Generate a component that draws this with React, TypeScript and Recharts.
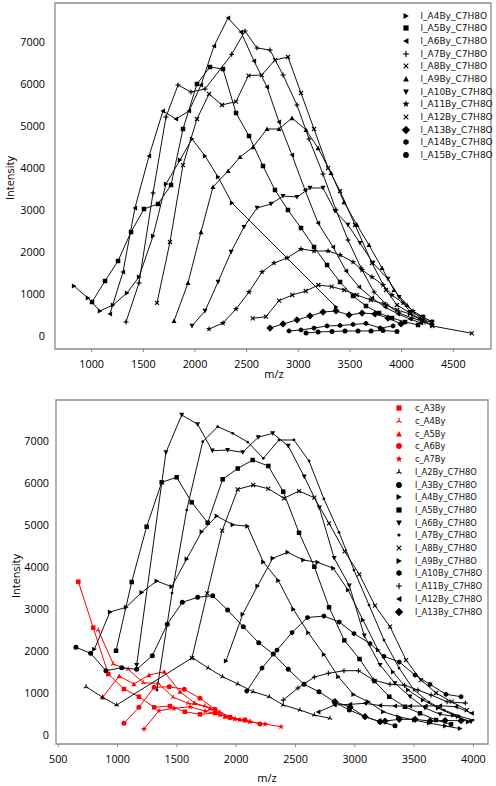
import React from 'react';
import { ScatterChart, Scatter, XAxis, YAxis, ReferenceArea } from 'recharts';

// ---------- tick labels ----------
const topXTicks = [1000, 1500, 2000, 2500, 3000, 3500, 4000, 4500];
const bottomXTicks = [500, 1000, 1500, 2000, 2500, 3000, 3500, 4000];
const yTicks = [0, 1000, 2000, 3000, 4000, 5000, 6000, 7000];

// ---------- top chart series (m/z, intensity) ----------
const tA4Mz = [829, 964, 1080, 1206, 1342, 1458, 1594, 1719, 1855, 1971, 2097, 2223, 2358, 3365];
const tA4Int = [1183, 898, 588, 731, 1017, 1398, 2374, 3612, 4183, 4683, 4279, 3779, 3160, 683];
const tA5Mz = [1003, 1129, 1255, 1381, 1506, 1642, 1768, 1884, 2019, 2145, 2271, 2397, 2523, 2658, 2774, 2900, 3026, 3152, 3278, 3404, 3530, 3655, 3781, 3907, 4033, 4159];
const tA5Int = [802, 1302, 1779, 2469, 3017, 3136, 3588, 4922, 5993, 6398, 6350, 5303, 4755, 4041, 3469, 2993, 2564, 2112, 1683, 1279, 945, 707, 540, 421, 326, 255];
const tA6Mz = [1177, 1303, 1419, 1555, 1690, 1816, 1942, 2058, 2184, 2320, 2445, 2571, 2697, 2813, 2939, 3065, 3191, 3336, 3462, 3588, 3713, 3839, 3965, 4081, 4188];
const tA6Int = [517, 1517, 3041, 4279, 5350, 5160, 5350, 5969, 6898, 7564, 7231, 6541, 5922, 5088, 4302, 3469, 2683, 2112, 1541, 1160, 898, 683, 517, 398, 302];
const tA7Mz = [1332, 1458, 1594, 1719, 1836, 1961, 2097, 2355, 2484, 2600, 2726, 2852, 2987, 3104, 3239, 3365, 3481, 3607, 3733, 3859, 3975, 4101, 4227];
const tA7Int = [326, 1255, 3398, 5207, 5969, 5803, 5874, 6700, 7255, 6850, 6803, 6207, 5493, 4683, 3850, 2993, 2279, 1612, 1040, 731, 540, 421, 326];
const tA8Mz = [1632, 1758, 1884, 2019, 2136, 2261, 2397, 2518, 2646, 2774, 2900, 3026, 3152, 3288, 3404, 3549, 3713, 3849, 3955, 4081, 4197, 4294];
const tA8Int = [779, 2231, 4064, 5160, 5755, 5493, 5576, 6195, 6207, 6564, 6636, 5779, 4922, 3993, 3445, 2636, 1731, 1088, 731, 540, 374, 255];
const tA9Mz = [1797, 1932, 2058, 2174, 2320, 2436, 2562, 2697, 2813, 2939, 3075, 3191, 3317, 3442, 3568, 3684, 3810, 3926, 4052, 4178, 4294];
const tA9Int = [350, 1255, 2469, 3541, 3922, 4255, 4493, 4922, 4922, 5183, 4898, 4469, 3874, 3183, 2636, 2160, 1612, 1088, 731, 421, 302];
const tA10Mz = [1971, 2097, 2223, 2349, 2474, 2600, 2736, 2852, 2987, 3113, 3239, 3355, 3481, 3597, 3723, 3868, 3975, 4081, 4207, 4294];
const tA10Int = [231, 588, 1279, 1993, 2588, 3041, 3136, 3326, 3302, 3517, 3517, 2969, 2636, 2207, 1731, 1350, 921, 564, 445, 326];
const tA11Mz = [2136, 2271, 2397, 2523, 2649, 2765, 2891, 3026, 3152, 3288, 3404, 3530, 3617, 3713, 3820, 3907, 4014, 4110, 4207, 4294];
const tA11Int = [160, 302, 636, 1040, 1517, 1731, 1850, 2064, 2017, 2017, 1921, 1755, 1564, 1398, 1207, 969, 779, 588, 445, 326];
const tA12Mz = [2559, 2687, 2813, 2942, 3072, 3194, 3323, 3445, 3565, 3701, 3830, 3958, 4081, 4204, 4297, 4679];
const tA12Int = [414, 453, 833, 969, 1064, 1207, 1167, 1088, 969, 850, 755, 612, 517, 350, 231, 57];
const tA13Mz = [2726, 2852, 2987, 3113, 3239, 3365, 3491, 3617, 3743, 3868, 3994];
const tA13Int = [183, 279, 374, 469, 564, 588, 493, 540, 517, 421, 279];
const tA14Mz = [2910, 3026, 3152, 3278, 3404, 3530, 3655, 3791, 3917];
const tA14Int = [112, 136, 183, 231, 243, 267, 291, 183, 231];
const tA15Mz = [3075, 3191, 3326, 3452, 3578, 3704, 3820, 3955];
const tA15Int = [64, 88, 100, 112, 112, 112, 124, 100];

// ---------- bottom chart series ----------
const cA3Mz = [669, 795, 922, 1054, 1180, 1309, 1442, 1568, 1695, 1821, 1948, 2074];
const cA3Int = [3650, 2554, 1452, 1095, 912, 659, 690, 554, 493, 524, 416, 357];
const cA4Mz = [837, 964, 1090, 1217, 1343, 1470, 1596, 1737, 1863, 1990, 2116];
const cA4Int = [2500, 1690, 1564, 1245, 1231, 897, 754, 690, 547, 380, 316];
const cA5Mz = [874, 1014, 1138, 1265, 1394, 1526, 1647, 1779, 1906, 2032];
const cA5Int = [897, 1404, 1214, 1428, 1507, 1031, 769, 635, 436, 373];
const cA6Mz = [1054, 1180, 1309, 1436, 1562, 1695, 1821, 1948, 2074, 2201];
const cA6Int = [278, 659, 1135, 1150, 1088, 874, 612, 421, 357, 262];
const cA7Mz = [1223, 1349, 1476, 1611, 1737, 1863, 1990, 2116, 2243, 2378];
const cA7Int = [143, 578, 635, 673, 571, 476, 380, 316, 262, 197];

const bA2Mz = [734, 874, 992, 1630, 1765, 1886, 2015, 2144, 2279, 2397, 2538, 2659, 2791];
const bA2Int = [1150, 897, 714, 1840, 1595, 1388, 1214, 1031, 912, 714, 595, 476, 397];
const bA3Mz = [649, 773, 902, 1035, 1161, 1293, 1419, 1546, 1675, 1802, 1928, 2060, 2190, 2313, 2439, 2572, 2698, 2827, 2954, 3086, 3213, 3339];
const bA3Int = [2088, 1945, 1531, 1602, 1564, 1888, 2635, 3159, 3278, 3316, 2976, 2578, 2197, 1928, 1564, 1207, 1031, 793, 595, 436, 316, 221];
const bA4Mz = [804, 936, 1071, 1203, 1330, 1456, 1583, 1709, 1836, 1971, 2095, 2229, 2355, 2482, 2608, 2740, 2861, 2989, 3114, 3240, 3367, 3499, 3626, 3761, 3887];
const bA4Int = [2040, 2928, 3040, 3393, 3666, 3531, 4190, 4840, 5214, 5007, 4971, 4119, 3678, 2993, 2435, 1916, 1388, 964, 793, 554, 436, 357, 285, 214, 154];
const bA5Mz = [987, 1119, 1245, 1372, 1498, 1625, 1760, 1886, 2013, 2139, 2271, 2397, 2530, 2659, 2783, 2912, 3040, 3166, 3291, 3423, 3550, 3685, 3811];
const bA5Int = [2007, 3643, 4959, 6016, 6136, 5540, 5055, 6088, 6345, 6547, 6405, 5793, 4816, 4007, 3040, 2254, 1809, 1285, 912, 673, 516, 357, 254];
const bA6Mz = [1161, 1408, 1541, 1675, 1799, 1928, 2055, 2186, 2308, 2439, 2574, 2701, 2826, 2954, 3080, 3213, 3339, 3466, 3592, 3718, 3859, 3980];
const bA6Int = [1666, 6731, 7619, 7397, 6769, 6785, 6731, 7088, 7183, 6881, 6150, 5412, 4214, 3555, 2364, 1666, 1231, 912, 643, 493, 436, 316];
const bA7Mz = [1332, 1459, 1583, 1718, 1844, 1971, 2097, 2229, 2361, 2487, 2614, 2740, 2867, 2993, 3120, 3246, 3373, 3499, 3625, 3752, 3879, 3997];
const bA7Int = [1071, 3381, 5357, 6983, 7340, 7183, 6976, 6588, 7024, 7024, 6524, 5619, 4826, 3928, 3095, 2262, 1595, 1071, 785, 595, 452, 357];
const bA8Mz = [1627, 1756, 1882, 2013, 2144, 2271, 2403, 2530, 2659, 2783, 2914, 3038, 3170, 3297, 3432, 3558, 3685, 3817, 3944];
const bA8Int = [1833, 3374, 4864, 5850, 5952, 5864, 5635, 5809, 5650, 5040, 4371, 3826, 3078, 2578, 1785, 1309, 1000, 793, 595];
const bA9Mz = [1914, 2055, 2180, 2308, 2434, 2566, 2687, 2819, 2943, 3069, 3196, 3322, 3449, 3575, 3702, 3828, 3955];
const bA9Int = [1762, 2874, 3547, 4207, 4350, 4166, 4112, 3969, 3452, 2738, 2023, 1500, 1071, 833, 643, 476, 309];
const bA10Mz = [2089, 2218, 2344, 2471, 2601, 2740, 2869, 2993, 3128, 3246, 3375, 3508, 3634, 3769, 3896];
const bA10Int = [1047, 1595, 2023, 2440, 2797, 2833, 2690, 2416, 2178, 1873, 1738, 1428, 1207, 969, 912];
const bA11Mz = [2397, 2521, 2659, 2777, 2909, 3031, 3156, 3297, 3419, 3533, 3643, 3778, 3932];
const bA11Int = [833, 1119, 1381, 1469, 1531, 1531, 1309, 1207, 1185, 1071, 952, 793, 761];
const bA12Mz = [2692, 2829, 2960, 3086, 3213, 3339, 3466, 3596, 3718, 3853, 3986];
const bA12Int = [547, 714, 731, 754, 702, 690, 690, 690, 697, 673, 516];
const bA13Mz = [2833, 2960, 3086, 3213, 3255, 3375, 3508, 3634, 3761, 3896];
const bA13Int = [793, 666, 436, 316, 333, 373, 373, 333, 345, 340];

type Kind = 'triRight' | 'triLeft' | 'triUp' | 'triDown' | 'square' | 'circle' | 'point' | 'plus' | 'x' | 'star' | 'diamond' | 'hexagon' | 'triY';
type Series = { name: string; kind: Kind; color: string; mz: number[]; it: number[] };

const BLACK = '#000000';
const RED = '#ff0000';

const topSeries: Series[] = [
  { name: 'l_A4By_C7H8O', kind: 'triRight', color: BLACK, mz: tA4Mz, it: tA4Int },
  { name: 'l_A5By_C7H8O', kind: 'square', color: BLACK, mz: tA5Mz, it: tA5Int },
  { name: 'l_A6By_C7H8O', kind: 'triLeft', color: BLACK, mz: tA6Mz, it: tA6Int },
  { name: 'l_A7By_C7H8O', kind: 'plus', color: BLACK, mz: tA7Mz, it: tA7Int },
  { name: 'l_A8By_C7H8O', kind: 'x', color: BLACK, mz: tA8Mz, it: tA8Int },
  { name: 'l_A9By_C7H8O', kind: 'triUp', color: BLACK, mz: tA9Mz, it: tA9Int },
  { name: 'l_A10By_C7H8O', kind: 'triDown', color: BLACK, mz: tA10Mz, it: tA10Int },
  { name: 'l_A11By_C7H8O', kind: 'star', color: BLACK, mz: tA11Mz, it: tA11Int },
  { name: 'l_A12By_C7H8O', kind: 'x', color: BLACK, mz: tA12Mz, it: tA12Int },
  { name: 'l_A13By_C7H8O', kind: 'diamond', color: BLACK, mz: tA13Mz, it: tA13Int },
  { name: 'l_A14By_C7H8O', kind: 'hexagon', color: BLACK, mz: tA14Mz, it: tA14Int },
  { name: 'l_A15By_C7H8O', kind: 'circle', color: BLACK, mz: tA15Mz, it: tA15Int },
];

const bottomSeries: Series[] = [
  { name: 'c_A3By', kind: 'square', color: RED, mz: cA3Mz, it: cA3Int },
  { name: 'c_A4By', kind: 'triY', color: RED, mz: cA4Mz, it: cA4Int },
  { name: 'c_A5By', kind: 'triUp', color: RED, mz: cA5Mz, it: cA5Int },
  { name: 'c_A6By', kind: 'circle', color: RED, mz: cA6Mz, it: cA6Int },
  { name: 'c_A7By', kind: 'star', color: RED, mz: cA7Mz, it: cA7Int },
  { name: 'l_A2By_C7H8O', kind: 'triY', color: BLACK, mz: bA2Mz, it: bA2Int },
  { name: 'l_A3By_C7H8O', kind: 'circle', color: BLACK, mz: bA3Mz, it: bA3Int },
  { name: 'l_A4By_C7H8O', kind: 'triRight', color: BLACK, mz: bA4Mz, it: bA4Int },
  { name: 'l_A5By_C7H8O', kind: 'square', color: BLACK, mz: bA5Mz, it: bA5Int },
  { name: 'l_A6By_C7H8O', kind: 'triDown', color: BLACK, mz: bA6Mz, it: bA6Int },
  { name: 'l_A7By_C7H8O', kind: 'point', color: BLACK, mz: bA7Mz, it: bA7Int },
  { name: 'l_A8By_C7H8O', kind: 'x', color: BLACK, mz: bA8Mz, it: bA8Int },
  { name: 'l_A9By_C7H8O', kind: 'triRight', color: BLACK, mz: bA9Mz, it: bA9Int },
  { name: 'l_A10By_C7H8O', kind: 'hexagon', color: BLACK, mz: bA10Mz, it: bA10Int },
  { name: 'l_A11By_C7H8O', kind: 'plus', color: BLACK, mz: bA11Mz, it: bA11Int },
  { name: 'l_A12By_C7H8O', kind: 'triLeft', color: BLACK, mz: bA12Mz, it: bA12Int },
  { name: 'l_A13By_C7H8O', kind: 'diamond', color: BLACK, mz: bA13Mz, it: bA13Int },
];

function Mark({ kind, cx, cy, color, k }: { kind: Kind; cx: number; cy: number; color: string; k: number }) {
  const pts = (arr: number[][]) => arr.map((p) => `${cx + p[0]},${cy + p[1]}`).join(' ');
  switch (kind) {
    case 'square':
      return <rect x={cx - k * 0.9} y={cy - k * 0.9} width={k * 1.8} height={k * 1.8} fill={color} />;
    case 'circle':
      return <circle cx={cx} cy={cy} r={k} fill={color} />;
    case 'point':
      return <circle cx={cx} cy={cy} r={k * 0.55} fill={color} />;
    case 'triUp':
      return <polygon points={pts([[0, -k], [-k, k * 0.85], [k, k * 0.85]])} fill={color} />;
    case 'triDown':
      return <polygon points={pts([[0, k], [-k, -k * 0.85], [k, -k * 0.85]])} fill={color} />;
    case 'triLeft':
      return <polygon points={pts([[-k, 0], [k * 0.85, -k], [k * 0.85, k]])} fill={color} />;
    case 'triRight':
      return <polygon points={pts([[k, 0], [-k * 0.85, -k], [-k * 0.85, k]])} fill={color} />;
    case 'diamond': {
      const d = k * 1.45;
      return <polygon points={pts([[0, -d], [d, 0], [0, d], [-d, 0]])} fill={color} />;
    }
    case 'hexagon': {
      const r = k * 1.05;
      const a: number[][] = [];
      for (let i = 0; i < 6; i++) {
        const t = (Math.PI / 3) * i - Math.PI / 2;
        a.push([r * Math.cos(t), r * Math.sin(t)]);
      }
      return <polygon points={pts(a)} fill={color} />;
    }
    case 'star': {
      const a: number[][] = [];
      for (let i = 0; i < 10; i++) {
        const r = i % 2 === 0 ? k * 1.3 : k * 0.52;
        const t = (Math.PI / 5) * i - Math.PI / 2;
        a.push([r * Math.cos(t), r * Math.sin(t)]);
      }
      return <polygon points={pts(a)} fill={color} />;
    }
    case 'plus':
      return (
        <g stroke={color} strokeWidth={1.1}>
          <line x1={cx - k} y1={cy} x2={cx + k} y2={cy} />
          <line x1={cx} y1={cy - k} x2={cx} y2={cy + k} />
        </g>
      );
    case 'x': {
      const d = k * 0.8;
      return (
        <g stroke={color} strokeWidth={1.1}>
          <line x1={cx - d} y1={cy - d} x2={cx + d} y2={cy + d} />
          <line x1={cx - d} y1={cy + d} x2={cx + d} y2={cy - d} />
        </g>
      );
    }
    case 'triY':
      return (
        <g stroke={color} strokeWidth={1.1}>
          <line x1={cx} y1={cy} x2={cx} y2={cy - k} />
          <line x1={cx} y1={cy} x2={cx - k * 0.87} y2={cy + k * 0.5} />
          <line x1={cx} y1={cy} x2={cx + k * 0.87} y2={cy + k * 0.5} />
        </g>
      );
    default:
      return null;
  }
}

const tickFont = { fontSize: 10.8, fill: '#000', fontFamily: '"Open Sans", sans-serif' };

function Panel({
  series, height, margin, xDomain, yDomain, xTicks, yTickMargin,
}: {
  series: Series[]; height: number; margin: any; xDomain: number[]; yDomain: number[]; xTicks: number[]; yTickMargin: number;
}) {
  return (
    <ScatterChart width={496} height={height} margin={margin}>
      <XAxis
        type="number" dataKey="x" domain={xDomain} allowDataOverflow ticks={xTicks} interval={0}
        tickSize={3} tickMargin={8} axisLine={false} tickLine={{ stroke: '#888' }} tick={tickFont} height={25}
      />
      <YAxis
        type="number" dataKey="y" domain={yDomain} allowDataOverflow ticks={yTicks} interval={0}
        tickSize={0} tickMargin={yTickMargin} axisLine={false} tickLine={false} tick={tickFont} width={45}
      />
      <ReferenceArea
        x1={xDomain[0]} x2={xDomain[1]} y1={yDomain[0]} y2={yDomain[1]}
        fill="none" fillOpacity={0} stroke="#8c8c8c" strokeWidth={1.3} ifOverflow="visible"
      />
      {series.map((s, si) => (
        <Scatter
          key={si}
          name={s.name}
          data={s.mz.map((x, i) => ({ x, y: s.it[i] }))}
          line={{ stroke: s.color === RED ? RED : '#111', strokeWidth: 1 }}
          lineType="joint"
          isAnimationActive={false}
          legendType="none"
          shape={(p: any) => {
            const cx = p.cx ?? p.x + (p.width || 0) / 2;
            const cy = p.cy ?? p.y + (p.height || 0) / 2;
            return <Mark kind={s.kind} cx={cx} cy={cy} color={s.color} k={2.5} />;
          }}
        />
      ))}
    </ScatterChart>
  );
}

function LegendBox({ series, top0, step, markX, textX, fontSize }: { series: Series[]; top0: number; step: number; markX: number; textX: number; fontSize: number }) {
  return (
    <>
      {series.map((s, i) => {
        const cy = top0 + step * i;
        return (
          <React.Fragment key={i}>
            <svg width={12} height={12} style={{ position: 'absolute', left: markX - 6, top: cy - 6, overflow: 'visible' }}>
              <Mark kind={s.kind} cx={6} cy={6} color={s.color} k={2.9} />
            </svg>
            <div
              style={{
                position: 'absolute', left: textX, top: cy - 7, height: 14, lineHeight: '14px',
                fontSize, fontFamily: '"DejaVu Sans", sans-serif', color: '#111', whiteSpace: 'nowrap',
              }}
            >
              {s.name}
            </div>
          </React.Fragment>
        );
      })}
    </>
  );
}

const labelStyle: React.CSSProperties = {
  position: 'absolute', fontSize: 11, fontFamily: '"Open Sans", sans-serif', color: '#000', whiteSpace: 'nowrap',
};

export default function App() {
  return (
    <div style={{ position: 'absolute', left: 0, top: 0, width: 496, height: 786, background: '#fff', overflow: 'hidden' }}>
      <div style={{ position: 'absolute', left: 0, top: 0 }}>
        <Panel
          series={topSeries}
          height={390}
          margin={{ top: 3, right: 5, left: 10, bottom: 16 }}
          xDomain={[645, 4865]}
          yDomain={[-317, 7922]}
          xTicks={topXTicks}
          yTickMargin={10}
        />
      </div>
      <div style={{ position: 'absolute', left: 0, top: 390 }}>
        <Panel
          series={bottomSeries}
          height={396}
          margin={{ top: 10, right: 8, left: 11, bottom: 17 }}
          xDomain={[481, 4123]}
          yDomain={[-214, 7976]}
          xTicks={bottomXTicks}
          yTickMargin={7}
        />
      </div>
      <LegendBox series={topSeries} top0={15.7} step={12.66} markX={406} textX={420.5} fontSize={9} />
      <LegendBox series={bottomSeries} top0={408.3} step={12.7} markX={399.3} textX={415} fontSize={8.4} />
      <div style={{ ...labelStyle, left: 9, top: 178, transform: 'translate(-50%, -50%) rotate(-90deg)' }}>Intensity</div>
      <div style={{ ...labelStyle, left: 274, top: 373, transform: 'translate(-50%, -50%)' }}>m/z</div>
      <div style={{ ...labelStyle, left: 15, top: 576, transform: 'translate(-50%, -50%) rotate(-90deg)' }}>Intensity</div>
      <div style={{ ...labelStyle, left: 267, top: 777, transform: 'translate(-50%, -50%)' }}>m/z</div>
    </div>
  );
}
